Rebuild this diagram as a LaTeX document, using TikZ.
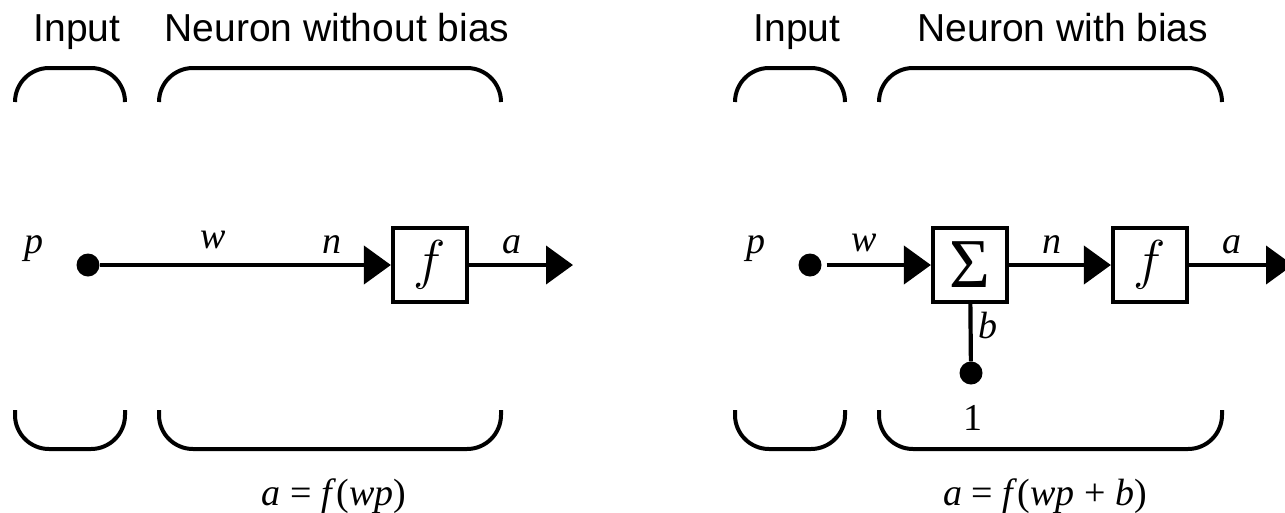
\documentclass[tikz,border=0pt]{standalone}
\usepackage{graphicx}
\usepackage{fontspec}
\setmainfont{Liberation Serif}
\setsansfont{Liberation Sans}
\usetikzlibrary{arrows.meta}
\newcommand{\boxf}{\scalebox{2.2}{\Huge$f$}}
\begin{document}
\begin{tikzpicture}[x=1pt,y=-1pt,
  wire/.style={line width=4.2pt},
  arr/.style={line width=4.2pt,-{Triangle[length=27pt,width=38pt]}},
  brace/.style={line width=4pt,rounded corners=34pt},
  dotnode/.style={circle,fill=black,inner sep=0pt,minimum size=23pt},
  fbox/.style={draw,line width=4.2pt,minimum width=74pt,minimum height=74pt,inner sep=0pt},
  head/.style={font=\sffamily\fontsize{39}{44}\selectfont,anchor=base,inner sep=0pt},
  lab/.style={font=\fontsize{38}{42}\selectfont\itshape,anchor=base,inner sep=0pt},
  eq/.style={font=\fontsize{38}{42}\selectfont,anchor=base,inner sep=0pt}]
\useasboundingbox (0,0) rectangle (1285,512);

% ---------- left panel ----------
\node[head] (in1) at (77,41) {Input};
\node[head] (ne1) at (337,41) {Neuron without bias};
\draw[brace] (15,102) -- (15,68) -- (125,68) -- (125,102);
\draw[brace] (159,102) -- (159,68) -- (501,68) -- (501,102);
\draw[brace] (15,410) -- (15,449) -- (125,449) -- (125,410);
\draw[brace] (159,410) -- (159,449) -- (501,449) -- (501,410);

\node[dotnode] (d1) at (88,265) {};
\node[fbox] (f1) at (430,265) {\boxf};
\coordinate (o1) at (573,265);
\draw[arr] (d1) -- (f1);
\draw[arr] (f1) -- (o1);

\node[lab] (p1) at (34,253) {p};
\node[lab] (w1) at (213,248) {w};
\node[lab] (n1) at (332,253) {n};
\node[lab] (a1) at (512,253) {a};
\node[eq] (e1) at (334,505) {\textit{a} = \textit{f}(\textit{wp})};

% ---------- right panel ----------
\node[head] (in2) at (797,41) {Input};
\node[head] (ne2) at (1063,41) {Neuron with bias};
\draw[brace] (735,102) -- (735,68) -- (845,68) -- (845,102);
\draw[brace] (879,102) -- (879,68) -- (1222,68) -- (1222,102);
\draw[brace] (735,410) -- (735,449) -- (845,449) -- (845,410);
\draw[brace] (879,410) -- (879,449) -- (1222,449) -- (1222,410);

\node[dotnode] (d2) at (810,265) {};
\node[fbox] (s2) at (970,265) {\fontsize{70}{70}\selectfont Σ};
\node[fbox] (f2) at (1150,265) {\boxf};
\node[dotnode] (b2) at (971,373) {};
\coordinate (o2) at (1293,265);
\draw[arr,shorten <=5pt] (d2) -- (s2);
\draw[arr] (s2) -- (f2);
\draw[arr] (f2) -- (o2);
\draw[wire] (b2) -- (s2);

\node[lab] (p2) at (756,253) {p};
\node[lab] (w2) at (864,251) {w};
\node[lab] (n2) at (1052,253) {n};
\node[lab] (a2) at (1232,253) {a};
\node[lab] (bl2) at (988,338) {b};
\node[eq] (one2) at (973,430) {1};
\node[eq] (e2) at (1045,505) {\textit{a} = \textit{f}(\textit{wp} + \textit{b})};
\end{tikzpicture}
\end{document}
